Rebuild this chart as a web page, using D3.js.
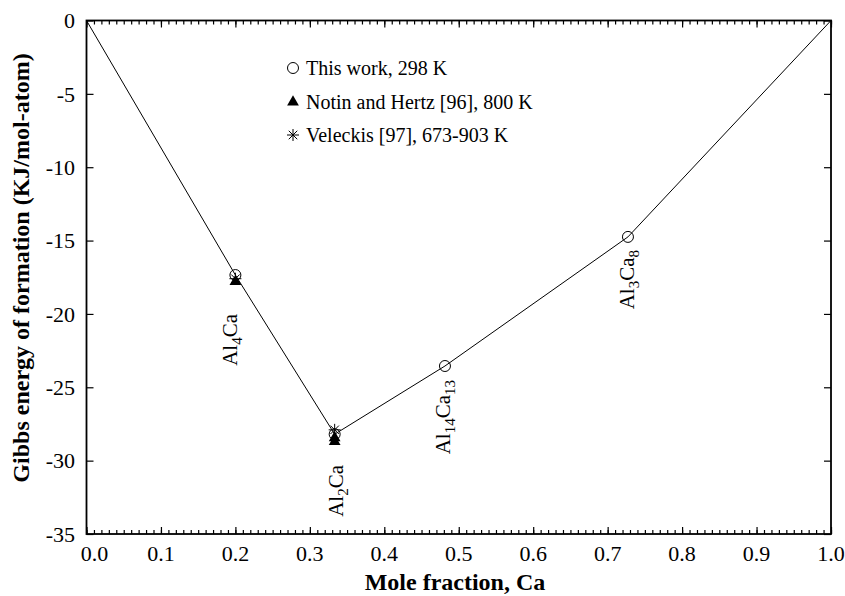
<!DOCTYPE html>
<html lang="en">
<head>
  <meta charset="utf-8">
  <title>Al-Ca Gibbs energy of formation</title>
  <script src="https://cdn.jsdelivr.net/npm/d3@7"></script>
  <style>
    body { margin: 0; background: #fff; }
    svg text { font-family: "Liberation Serif", "Times New Roman", serif; fill: #000; }
  </style>
</head>
<body>
<svg id="chart" width="845" height="596"></svg>
<script>
  // this work, 298 K (also the convex hull line)
  var workX = [0, 0.2, 1 / 3, 13 / 27, 8 / 11, 1];
  var workY = [0, -17.35, -28.2, -23.55, -14.75, 0];
  // Notin and Hertz [96], 800 K
  var notinX = [0.2, 1 / 3, 1 / 3];
  var notinY = [-17.8, -28.45, -28.7];
  // Veleckis [97], 673-903 K
  var velX = [0.2, 1 / 3];
  var velY = [-17.6, -27.9];

  var phaseX = [0.2, 1 / 3, 13 / 27, 8 / 11];
  var phaseParts = [
    [["Al", 0], ["4", 1], ["Ca", 0]],
    [["Al", 0], ["2", 1], ["Ca", 0]],
    [["Al", 0], ["14", 1], ["Ca", 0], ["13", 1]],
    [["Al", 0], ["3", 1], ["Ca", 0], ["8", 1]]
  ];
  var legendLabels = ["This work, 298 K", "Notin and Hertz [96], 800 K", "Veleckis [97], 673-903 K"];
  var yTicks = [0, -5, -10, -15, -20, -25, -30, -35];
  var xTicks = [0, 0.1, 0.2, 0.3, 0.4, 0.5, 0.6, 0.7, 0.8, 0.9, 1.0];

  var svg = d3.select("#chart");
  var x = d3.scaleLinear().domain([0, 1]).range([86.5, 831]);
  var y = d3.scaleLinear().domain([-35, 0]).range([534, 20.5]);

  // 线
  var line = d3.line().x(function (d, i) { return x(workX[i]); }).y(function (d) { return y(d); });
  svg.append("path").datum(workY).attr("d", line)
    .attr("fill", "none").attr("stroke", "#000").attr("stroke-width", 1);

  // 坐标轴 (ticks inward)
  var minor = d3.range(0, 101).map(function (i) { return i / 100; });
  svg.append("g").attr("transform", "translate(0,534)")
    .call(d3.axisTop(x).tickValues(minor).tickSize(4).tickFormat(""));
  svg.append("g").attr("transform", "translate(0,534)")
    .call(d3.axisTop(x).tickValues(xTicks).tickSize(7).tickFormat(""));
  svg.append("g").attr("transform", "translate(0,20.5)")
    .call(d3.axisBottom(x).tickValues(minor).tickSize(4).tickFormat(""));
  svg.append("g").attr("transform", "translate(0,20.5)")
    .call(d3.axisBottom(x).tickValues(xTicks).tickSize(7).tickFormat(""));
  svg.append("g").attr("transform", "translate(86.5,0)")
    .call(d3.axisRight(y).tickValues(yTicks).tickSize(7).tickFormat(""));
  svg.append("g").attr("transform", "translate(831,0)")
    .call(d3.axisLeft(y).tickValues(yTicks).tickSize(7).tickFormat(""));
  svg.selectAll(".domain").remove();
  svg.selectAll(".tick line").attr("stroke", "#000").attr("stroke-width", 1.2);
  svg.append("rect").attr("x", 86.5).attr("y", 20.5).attr("width", 831 - 86.5).attr("height", 534 - 20.5)
    .attr("fill", "none").attr("stroke", "#000").attr("stroke-width", 1.8);

  // tick labels
  svg.selectAll(".ylab").data(yTicks).enter().append("text")
    .attr("x", 75).attr("y", function (d) { return y(d); }).attr("dy", "0.35em")
    .attr("text-anchor", "end").style("font-size", "22px")
    .text(function (d) { return d; });
  svg.selectAll(".xlab").data(xTicks).enter().append("text")
    .attr("x", function (d, i) { return x(d) + (i === 0 ? 8 : 0); }).attr("y", 561)
    .attr("text-anchor", "middle").style("font-size", "22px")
    .text(function (d) { return d3.format(".1f")(d); });

  // axis titles
  svg.append("text").attr("x", 455).attr("y", 590).attr("text-anchor", "middle")
    .style("font-size", "24px").style("font-weight", "bold").text("Mole fraction, Ca");
  svg.append("text").attr("transform", "translate(29,268) rotate(-90)").attr("text-anchor", "middle")
    .style("font-size", "24px").style("font-weight", "bold").text("Gibbs energy of formation (KJ/mol-atom)");

  // 标记
  function drawCircle(g, cx, cy) {
    g.append("circle").attr("cx", cx).attr("cy", cy).attr("r", 5.5)
      .attr("fill", "none").attr("stroke", "#000").attr("stroke-width", 1);
  }
  var tri = d3.symbol().type(d3.symbolTriangle).size(60);
  function drawTri(g, cx, cy) {
    g.append("path").attr("d", tri()).attr("transform", "translate(" + cx + "," + cy + ")").attr("fill", "#000");
  }
  function drawStar(g, cx, cy) {
    var r = 6;
    [0, 45, 90, 135].forEach(function (a) {
      var rad = a * Math.PI / 180;
      g.append("line")
        .attr("x1", cx - r * Math.cos(rad)).attr("y1", cy - r * Math.sin(rad))
        .attr("x2", cx + r * Math.cos(rad)).attr("y2", cy + r * Math.sin(rad))
        .attr("stroke", "#000").attr("stroke-width", 1);
    });
  }
  var marks = svg.append("g");
  workX.forEach(function (v, i) { if (v > 0 && v < 1) drawCircle(marks, x(v), y(workY[i])); });
  notinX.forEach(function (v, i) { drawTri(marks, x(v), y(notinY[i])); });
  velX.forEach(function (v, i) { drawStar(marks, x(v), y(velY[i])); });

  // phase labels, rotated
  var labelPos = [[-6, 314], [1, 465], [-2, 380], [-1, 250]];
  phaseX.forEach(function (v, i) {
    var t = svg.append("text")
      .attr("transform", "translate(" + (x(v) + labelPos[i][0]) + "," + labelPos[i][1] + ") rotate(-90)")
      .attr("text-anchor", "end").attr("dy", "0.35em").style("font-size", "21px");
    var shift = 0;
    phaseParts[i].forEach(function (p) {
      var s = t.append("tspan").text(p[0]);
      if (p[1]) { s.style("font-size", "15px").attr("dy", 5 - shift); shift = 5; }
      else if (shift) { s.attr("dy", -shift); shift = 0; }
    });
  });

  // legend
  var legendY = [68, 102, 135];
  var lg = svg.append("g");
  drawCircle(lg, 293, legendY[0]);
  drawTri(lg, 293, legendY[1]);
  drawStar(lg, 293, legendY[2]);
  legendLabels.forEach(function (s, i) {
    lg.append("text").attr("x", 306).attr("y", legendY[i]).attr("dy", "0.35em")
      .style("font-size", "20px").text(s);
  });
</script>
</body>
</html>
